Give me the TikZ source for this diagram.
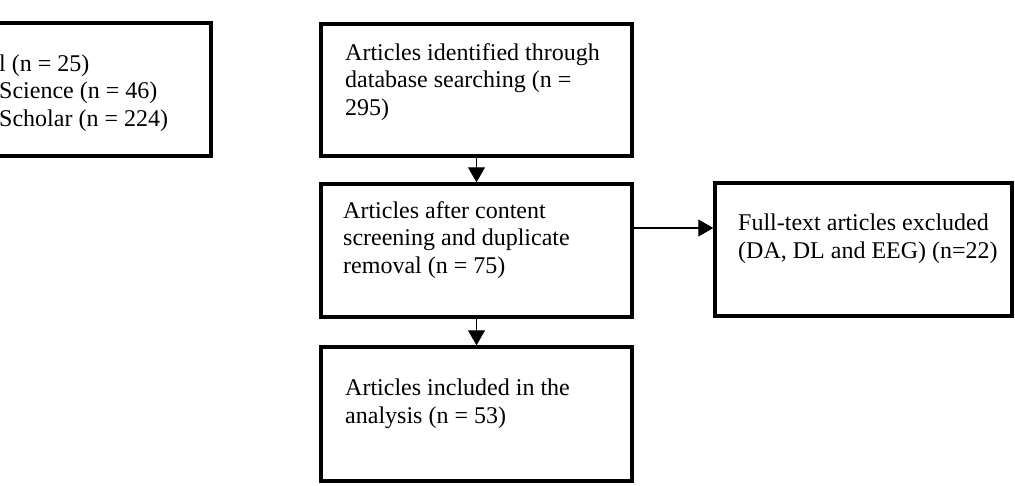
\documentclass[tikz,border=0pt]{standalone}
\usepackage{fontspec}
\setmainfont{Liberation Serif}
\usetikzlibrary{arrows.meta}
\begin{document}
\begin{tikzpicture}[x=1pt,y=-1pt,
  box/.style={draw, line width=3.4pt, inner sep=0pt},
  txt/.style={anchor=base west, align=left, inner sep=0pt, font=\fontsize{24}{27.5}\selectfont},
  arr/.style={line width=1.2pt, -{Triangle[width=17pt,length=15pt]}}]
\useasboundingbox (0,0) rectangle (1015,485);
\clip (0,0) rectangle (1015,485);
% boxes
\node[box, minimum width=271pt, minimum height=133pt] (L) at (75.5,89.5) {};
\node[box, minimum width=311pt, minimum height=132pt] (A) at (476.5,90) {};
\node[box, minimum width=311pt, minimum height=133pt] (B) at (476.5,250.5) {};
\node[box, minimum width=297pt, minimum height=133pt] (C) at (863.5,249.5) {};
\node[box, minimum width=311pt, minimum height=134pt] (D) at (476.5,414) {};
% texts (anchored at the baseline of their last line)
\node[txt] (Lt) at (-1,126) {l (n = 25)\\Science (n = 46)\\Scholar (n = 224)};
\node[txt] (At) at (345,115) {Articles identified through\\database searching (n =\\295)};
\node[txt] (Bt) at (343,273) {Articles after content\\screening and duplicate\\removal (n = 75)};
\node[txt] (Ct) at (738,258) {Full-text articles excluded\\(DA, DL and EEG) (n=22)};
\node[txt] (Dt) at (345,423) {Articles included in the\\analysis (n = 53)};
% connectors
\coordinate (m) at (633,228);
\draw[arr] (A.south) -- (B.north);
\draw[arr] (B.east |- m) -- (C.west |- m);
\draw[arr] (B.south) -- (D.north);
\end{tikzpicture}
\end{document}
